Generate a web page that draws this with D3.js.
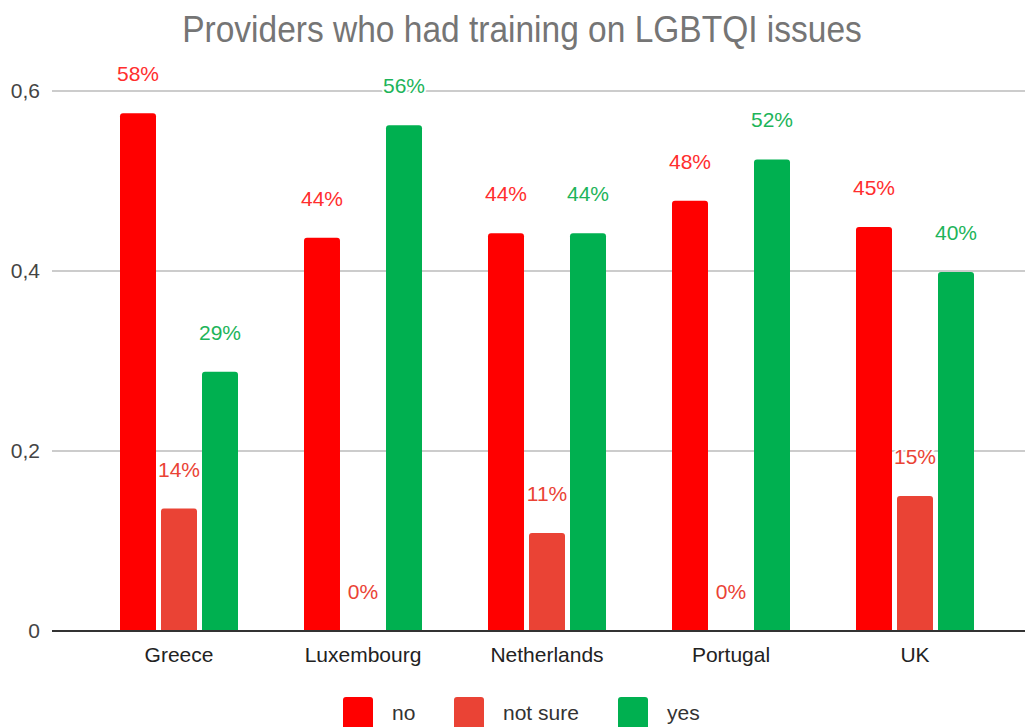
<!DOCTYPE html>
<html>
<head>
<meta charset="utf-8">
<script src="https://cdn.jsdelivr.net/npm/d3@7"></script>
<style>
  body { margin: 0; background: #fff; }
  svg { display: block; font-family: "Liberation Sans", Arial, sans-serif; }
</style>
</head>
<body>
<div id="chart"></div>
<script>
// data
const countries = ["Greece", "Luxembourg", "Netherlands", "Portugal", "UK"];
const seriesNames = ["no", "not sure", "yes"];
const noVals = [0.5752, 0.437, 0.442, 0.478, 0.449];
const notSureVals = [0.136, 0, 0.109, 0, 0.150];
const yesVals = [0.288, 0.562, 0.442, 0.524, 0.399];
const yTicks = [0, 0.2, 0.4, 0.6];

const colors = { "no": "#ff0000", "not sure": "#ea4335", "yes": "#00b050" };
const labelColors = { "no": "#ff2e2e", "not sure": "#ea4335", "yes": "#1db45a" };

const W = 1025, H = 727;
const plotLeft = 52, plotRight = 1025;
const y0 = 631;

var svg = d3.select("#chart").append("svg")
  .attr("width", W).attr("height", H);

// scales
var x0 = d3.scaleBand().domain(countries).range([87, 1007]);
var x1 = d3.scaleBand().domain(seriesNames).range([-59, 59]).paddingInner(0.122);
var y = d3.scaleLinear().domain([0, 0.6]).range([y0, y0 - 0.6 * 900]);

// title (slightly tall glyphs like the original)
svg.append("text")
  .attr("transform", "translate(522,42) scale(1,1.08)")
  .attr("text-anchor", "middle")
  .style("font-size", "33.5px")
  .style("fill", "#757575")
  .text("Providers who had training on LGBTQI issues");

// gridlines + y labels
var yAxis = svg.append("g");
yAxis.selectAll("line").data(yTicks.filter(d => d > 0)).enter().append("line")
  .attr("x1", plotLeft).attr("x2", plotRight)
  .attr("y1", d => y(d)).attr("y2", d => y(d))
  .style("stroke", "#cccccc").style("stroke-width", 2);
yAxis.selectAll("text").data(yTicks).enter().append("text")
  .attr("x", 40).attr("y", d => y(d) + 7)
  .attr("text-anchor", "end")
  .style("font-size", "21px").style("fill", "#444")
  .text(d => d === 0 ? "0" : d3.format(".1f")(d).replace(".", ","));

// rows of data
var rows = countries.map((c, i) => ({
  country: c,
  vals: [
    { key: "no", v: noVals[i] },
    { key: "not sure", v: notSureVals[i] },
    { key: "yes", v: yesVals[i] }
  ]
}));

function topRounded(x, yTop, w, h, r) {
  if (h <= 0) return "";
  r = Math.min(r, h, w / 2);
  return "M" + x + "," + (yTop + h) +
    "V" + (yTop + r) +
    "Q" + x + "," + yTop + " " + (x + r) + "," + yTop +
    "H" + (x + w - r) +
    "Q" + (x + w) + "," + yTop + " " + (x + w) + "," + (yTop + r) +
    "V" + (yTop + h) + "Z";
}

var groups = svg.selectAll(".grp").data(rows).enter().append("g")
  .attr("class", "grp")
  .attr("transform", d => "translate(" + (x0(d.country) + x0.bandwidth() / 2) + ",0)");

groups.selectAll("path").data(d => d.vals).enter().append("path")
  .attr("d", d => topRounded(x1(d.key), y(d.v), x1.bandwidth(), y0 - y(d.v), 3))
  .style("fill", d => colors[d.key]);

groups.selectAll("text.val").data(d => d.vals).enter().append("text")
  .attr("class", "val")
  .attr("x", d => x1(d.key) + x1.bandwidth() / 2)
  .attr("y", d => y(d.v) - 32)
  .attr("text-anchor", "middle")
  .style("font-size", "21px")
  .style("fill", d => labelColors[d.key])
  .style("stroke", "#fff").style("stroke-width", 4)
  .style("paint-order", "stroke")
  .text(d => Math.round(d.v * 100) + "%");

// baseline
svg.append("line")
  .attr("x1", plotLeft).attr("x2", plotRight)
  .attr("y1", y0).attr("y2", y0)
  .style("stroke", "#333").style("stroke-width", 2);

// x labels
svg.selectAll(".xl").data(countries).enter().append("text")
  .attr("class", "xl")
  .attr("x", d => x0(d) + x0.bandwidth() / 2)
  .attr("y", 662)
  .attr("text-anchor", "middle")
  .style("font-size", "21px").style("fill", "#222")
  .text(d => d);

// legend
const legendX = [343, 454, 618];
var leg = svg.selectAll(".leg").data(seriesNames).enter().append("g")
  .attr("class", "leg")
  .attr("transform", (d, i) => "translate(" + legendX[i] + ",697)");
leg.append("rect")
  .attr("width", 30).attr("height", 34).attr("rx", 3)
  .style("fill", d => colors[d]);
leg.append("text")
  .attr("x", 49).attr("y", 23)
  .style("font-size", "21px").style("fill", "#333")
  .text(d => d);
</script>
</body>
</html>
